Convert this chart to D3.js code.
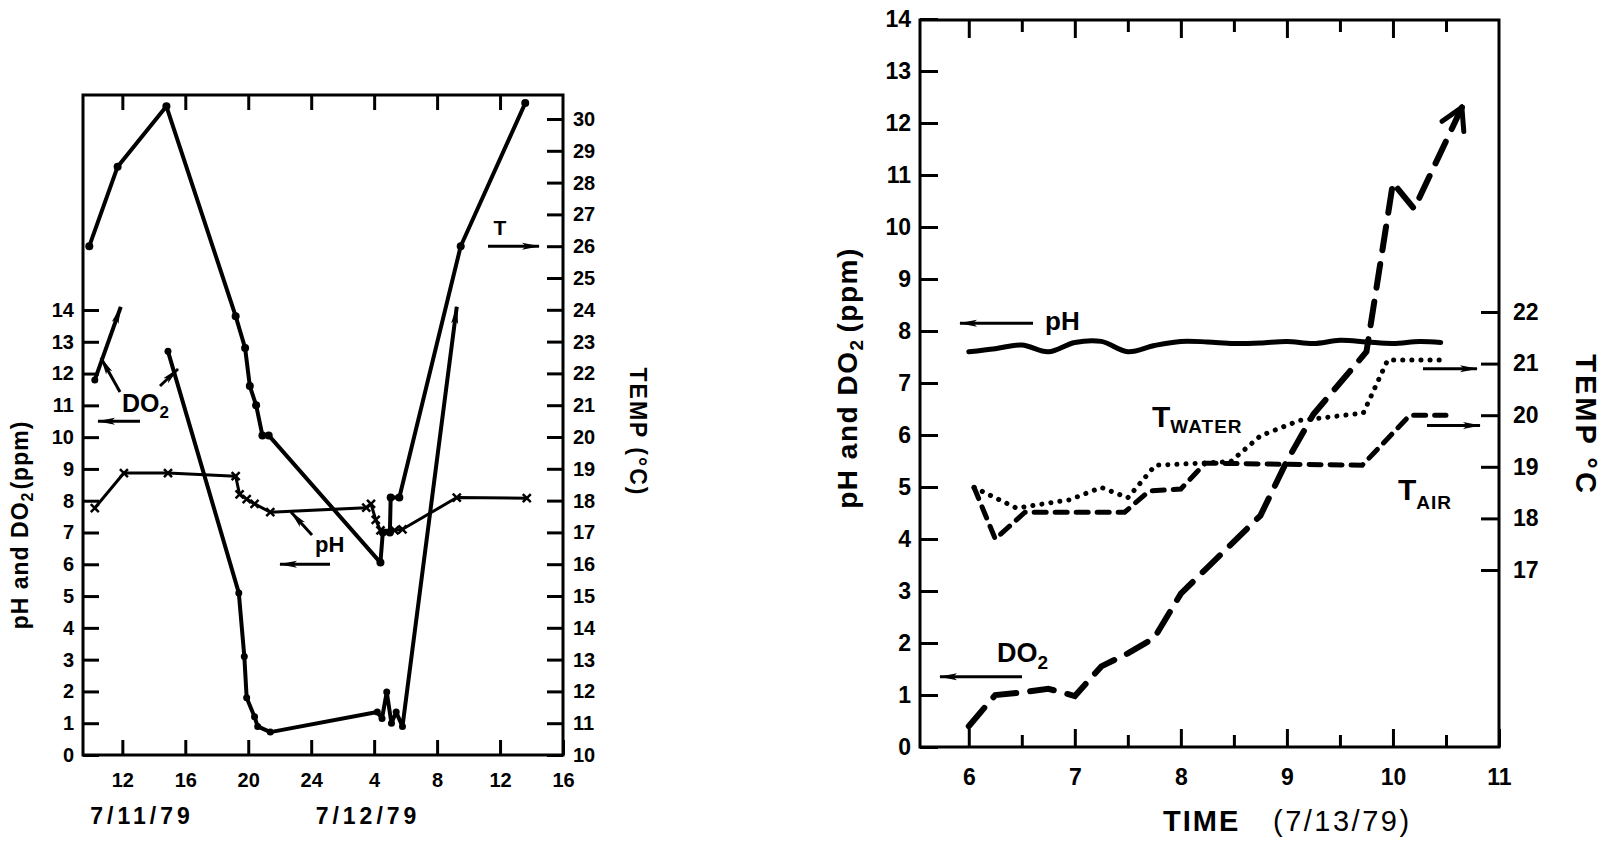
<!DOCTYPE html>
<html>
<head>
<meta charset="utf-8">
<script src="https://cdn.jsdelivr.net/npm/d3@7"></script>
<style>
body { margin: 0; background: #fff; }
svg { display: block; font-family: "Liberation Sans", Arial, sans-serif; font-weight: bold; }
</style>
</head>
<body>
<svg id="chart" width="1614" height="844"></svg>
<script>
// ---------- left panel: hours counted from midnight of 7/11/79 ----------
const leftTicks = [12, 16, 20, 24, 28, 32, 36, 40];
const leftTickLabels = ["12", "16", "20", "24", "4", "8", "12", "16"];
const leftPhTicks = d3.range(0, 15);
const leftTempTicks = d3.range(10, 31);
const leftDates = ["7/11/79", "7/12/79"];

// temperature (deg C)
const tempL = [[9.9, 26.0], [11.7, 28.5], [14.8, 30.4], [19.2, 23.8], [19.8, 22.8], [20.1, 21.6],
  [20.5, 21.0], [20.9, 20.05], [21.3, 20.05], [28.4, 16.05], [28.55, 17.0], [29.0, 17.0],
  [29.05, 18.1], [29.6, 18.1], [33.5, 26.0], [37.6, 30.5]];
// dissolved oxygen (ppm), two pieces, both run off scale
const do2LFirst = [[10.25, 11.8], [11.9, 14.1]];
const do2LSecond = [[14.9, 12.7], [19.4, 5.1], [19.75, 3.1], [19.9, 1.8], [20.4, 1.2], [20.6, 0.9],
  [21.4, 0.72], [28.2, 1.35], [28.5, 1.15], [28.8, 1.98], [29.1, 1.0], [29.4, 1.35], [29.8, 0.9],
  [33.25, 14.1]];
// pH
const phL = [[10.25, 7.77], [12.1, 8.87], [14.9, 8.87], [19.2, 8.77], [19.45, 8.2], [19.9, 8.05],
  [20.4, 7.9], [21.4, 7.64], [27.5, 7.78], [27.8, 7.9], [28.1, 7.4], [28.4, 7.07], [29.3, 7.07],
  [29.8, 7.1], [33.25, 8.1], [37.7, 8.08]];

// ---------- right panel: time of day on 7/13/79 ----------
const rightTicks = [6, 7, 8, 9, 10, 11];
const rightMinorTicks = [6.5, 7.5, 8.5, 9.5, 10.5];
const rightPhTicks = d3.range(0, 15);
const rightTempTicks = [17, 18, 19, 20, 21, 22];

const phR = [[6.0, 7.6], [6.25, 7.66], [6.5, 7.73], [6.75, 7.6], [7.0, 7.78], [7.25, 7.8], [7.5, 7.6],
  [7.75, 7.72], [8.0, 7.8], [8.25, 7.79], [8.5, 7.76], [8.75, 7.77], [9.0, 7.8], [9.25, 7.76],
  [9.5, 7.82], [9.75, 7.79], [10.0, 7.76], [10.25, 7.8], [10.45, 7.78]];
const do2R = [[6.0, 0.4], [6.25, 1.0], [6.5, 1.05], [6.75, 1.12], [7.0, 0.98], [7.25, 1.55], [7.5, 1.8],
  [7.75, 2.1], [8.0, 2.95], [8.25, 3.45], [8.5, 3.95], [8.75, 4.45], [9.0, 5.5], [9.25, 6.4],
  [9.5, 7.0], [9.75, 7.6], [10.0, 10.85], [10.2, 10.35], [10.65, 12.3]];
const waterR = [[6.05, 18.6], [6.45, 18.2], [6.95, 18.36], [7.25, 18.6], [7.5, 18.4], [7.76, 19.03],
  [8.19, 19.07], [8.47, 19.1], [8.75, 19.6], [9.12, 19.9], [9.72, 20.04], [9.95, 21.07], [10.47, 21.07]];
const airR = [[6.05, 18.6], [6.25, 17.6], [6.53, 18.12], [7.47, 18.12], [7.7, 18.53], [8.0, 18.57],
  [8.23, 19.07], [9.71, 19.03], [10.16, 20.0], [10.5, 20.0]];

const font = '"Liberation Sans", Arial, sans-serif';
const svg = d3.select("#chart");
const defs = svg.append("defs");

// filled arrow head and open chevron
defs.append("marker").attr("id", "head")
  .attr("viewBox", "0 0 18 8").attr("refX", 17).attr("refY", 4)
  .attr("markerWidth", 18).attr("markerHeight", 8)
  .attr("markerUnits", "userSpaceOnUse").attr("orient", "auto")
  .append("path").attr("d", "M0,0.5 L18,4 L0,7.5 L4,4 Z").attr("fill", "#000");
defs.append("marker").attr("id", "chev")
  .attr("viewBox", "0 0 30 30").attr("refX", 27).attr("refY", 15)
  .attr("markerWidth", 30).attr("markerHeight", 30)
  .attr("markerUnits", "userSpaceOnUse").attr("orient", "auto")
  .append("path").attr("d", "M6,3 L27,15 L6,27").attr("fill", "none")
  .attr("stroke", "#000").attr("stroke-width", 5).attr("stroke-linecap", "round");

function styleAxis(g, size) {
  g.attr("font-family", font).attr("font-size", size).attr("font-weight", "bold");
  g.select(".domain").remove();
  g.selectAll(".tick line").attr("stroke-width", 3);
}

function arrow(g, x1, y1, x2, y2, w) {
  g.append("line").attr("x1", x1).attr("y1", y1).attr("x2", x2).attr("y2", y2)
    .attr("stroke", "#000").attr("stroke-width", w || 3).attr("marker-end", "url(#head)");
}

// ================= LEFT PANEL =================
const L = { left: 83, right: 563, top: 95, bottom: 755 };
const xL = d3.scaleLinear().domain([9.5, 40]).range([L.left, L.right]);
const yL = d3.scaleLinear().domain([0, 14]).range([755, 310]);
const yLT = d3.scaleLinear().domain([10, 30]).range([755, 119]);

const gL = svg.append("g");
gL.append("g").attr("transform", `translate(${L.left},0)`)
  .call(d3.axisLeft(yL).tickValues(leftPhTicks).tickSize(-16).tickPadding(9))
  .call(styleAxis, 20);
gL.append("g").attr("transform", `translate(${L.right},0)`)
  .call(d3.axisRight(yLT).tickValues(leftTempTicks).tickSize(-16).tickPadding(10))
  .call(styleAxis, 20);
gL.append("g").attr("transform", `translate(0,${L.bottom})`)
  .call(d3.axisBottom(xL).tickValues(leftTicks).tickFormat((d, i) => leftTickLabels[i]).tickSize(-15).tickPadding(18))
  .call(styleAxis, 20);
gL.append("g").attr("transform", `translate(0,${L.top})`)
  .call(d3.axisTop(xL).tickValues(leftTicks.slice(0, -1)).tickFormat("").tickSize(-15))
  .call(styleAxis, 20);
gL.append("rect").attr("x", L.left).attr("y", L.top)
  .attr("width", L.right - L.left).attr("height", L.bottom - L.top)
  .attr("fill", "none").attr("stroke", "#000").attr("stroke-width", 3);

const lineL = d3.line().x(d => xL(d[0])).y(d => yL(d[1]));
const lineLT = d3.line().x(d => xL(d[0])).y(d => yLT(d[1]));

gL.append("path").attr("d", lineLT(tempL)).attr("fill", "none").attr("stroke", "#000")
  .attr("stroke-width", 4).attr("stroke-linejoin", "round");
gL.selectAll(".tdot").data(tempL).enter().append("circle")
  .attr("cx", d => xL(d[0])).attr("cy", d => yLT(d[1])).attr("r", 4);

[do2LFirst, do2LSecond].forEach(s => {
  gL.append("path").attr("d", lineL(s)).attr("fill", "none").attr("stroke", "#000")
    .attr("stroke-width", 4).attr("stroke-linejoin", "round").attr("marker-end", "url(#head)");
});
gL.selectAll(".odot").data(do2LFirst.slice(0, 1).concat(do2LSecond.slice(0, -1))).enter().append("circle")
  .attr("cx", d => xL(d[0])).attr("cy", d => yL(d[1])).attr("r", 3.5);

gL.append("path").attr("d", lineL(phL)).attr("fill", "none").attr("stroke", "#000")
  .attr("stroke-width", 3).attr("stroke-linejoin", "round");
gL.selectAll(".px").data(phL).enter().append("path")
  .attr("transform", d => `translate(${xL(d[0])},${yL(d[1])})`)
  .attr("d", "M-4,-4L4,4M-4,4L4,-4").attr("stroke", "#000").attr("stroke-width", 2.5);

// left panel labels
gL.append("text").attr("transform", "translate(28,525) rotate(-90)").attr("text-anchor", "middle")
  .attr("font-size", 23).attr("letter-spacing", 1)
  .call(t => { t.append("tspan").text("pH and DO"); t.append("tspan").attr("font-size", 16).attr("dy", 5).text("2");
    t.append("tspan").attr("dy", -5).attr("dx", 2).text("(ppm)"); });
gL.append("text").attr("transform", "translate(630,432) rotate(90)").attr("text-anchor", "middle")
  .attr("font-size", 23).attr("letter-spacing", 2).text("TEMP (\u00b0C)");
gL.selectAll(".date").data(leftDates).enter().append("text")
  .attr("x", (d, i) => i === 0 ? 142 : 368).attr("y", 824)
  .attr("text-anchor", "middle").attr("font-size", 23).attr("letter-spacing", 4).text(d => d);

gL.append("text").attr("x", 122).attr("y", 412).attr("font-size", 25)
  .call(t => { t.append("tspan").text("DO"); t.append("tspan").attr("font-size", 17).attr("dy", 6).text("2"); });
arrow(gL, 120, 392, 101, 358);
arrow(gL, 160, 386, 178, 369);
arrow(gL, 140, yL(10.5), 98, yL(10.5));
gL.append("text").attr("x", 315).attr("y", 552).attr("font-size", 22).text("pH");
arrow(gL, 312, 535, 291, 512);
arrow(gL, 330, yL(6), 280, yL(6));
gL.append("text").attr("x", 500).attr("y", 235).attr("text-anchor", "middle").attr("font-size", 21).text("T");
arrow(gL, 488, yLT(26), 539, yLT(26));

// ================= RIGHT PANEL =================
const R = { left: 920, right: 1499, top: 20, bottom: 747 };
const xR = d3.scaleLinear().domain([5.54, 11]).range([R.left, R.right]);
const yR = d3.scaleLinear().domain([0, 14]).range([747, 19]);
const yRT = d3.scaleLinear().domain([17, 22]).range([570, 312]);
const intFmt = d3.format("d");

const gR = svg.append("g");
gR.append("g").attr("transform", `translate(${R.left},0)`)
  .call(d3.axisLeft(yR).tickValues(rightPhTicks).tickFormat(intFmt).tickSize(-18).tickPadding(9))
  .call(styleAxis, 23);
gR.append("g").attr("transform", `translate(${R.right},0)`)
  .call(d3.axisRight(yRT).tickValues(rightTempTicks).tickFormat(intFmt).tickSize(-18).tickPadding(14))
  .call(styleAxis, 23);
gR.append("g").attr("transform", `translate(0,${R.bottom})`)
  .call(d3.axisBottom(xR).tickValues(rightTicks).tickFormat(intFmt).tickSize(-18).tickPadding(22))
  .call(styleAxis, 23);
gR.append("g").attr("transform", `translate(0,${R.bottom})`)
  .call(d3.axisBottom(xR).tickValues(rightMinorTicks).tickFormat("").tickSize(-12))
  .call(styleAxis, 23);
gR.append("g").attr("transform", `translate(0,${R.top})`)
  .call(d3.axisTop(xR).tickValues(rightTicks.slice(0, -1)).tickFormat("").tickSize(-18))
  .call(styleAxis, 23);
gR.append("g").attr("transform", `translate(0,${R.top})`)
  .call(d3.axisTop(xR).tickValues(rightMinorTicks).tickFormat("").tickSize(-12))
  .call(styleAxis, 23);
gR.append("rect").attr("x", R.left).attr("y", R.top)
  .attr("width", R.right - R.left).attr("height", R.bottom - R.top)
  .attr("fill", "none").attr("stroke", "#000").attr("stroke-width", 3);

const lineR = d3.line().x(d => xR(d[0])).y(d => yR(d[1]));
const lineRT = d3.line().x(d => xR(d[0])).y(d => yRT(d[1]));

gR.append("path").attr("d", lineR.curve(d3.curveCatmullRom)(phR)).attr("fill", "none")
  .attr("stroke", "#000").attr("stroke-width", 5).attr("stroke-linecap", "round");
lineR.curve(d3.curveLinear);
gR.append("path").attr("d", lineRT(waterR)).attr("fill", "none").attr("stroke", "#000")
  .attr("stroke-width", 5).attr("stroke-linecap", "round").attr("stroke-dasharray", "0.1,9");
gR.append("path").attr("d", lineRT(airR)).attr("fill", "none").attr("stroke", "#000")
  .attr("stroke-width", 5).attr("stroke-linecap", "round").attr("stroke-dasharray", "12,9");
gR.append("path").attr("d", lineR(do2R)).attr("fill", "none").attr("stroke", "#000")
  .attr("stroke-width", 6).attr("stroke-linecap", "round").attr("stroke-dasharray", "24,14")
  .attr("marker-end", "url(#chev)");

// right panel labels
gR.append("text").attr("transform", "translate(857,378) rotate(-90)").attr("text-anchor", "middle")
  .attr("font-size", 28).attr("letter-spacing", 1.5)
  .call(t => { t.append("tspan").text("pH and DO"); t.append("tspan").attr("font-size", 19).attr("dy", 6).text("2");
    t.append("tspan").attr("dy", -6).attr("dx", 6).text("(ppm)"); });
gR.append("text").attr("transform", "translate(1576,425) rotate(90)").attr("text-anchor", "middle")
  .attr("font-size", 29).attr("letter-spacing", 3).text("TEMP \u00b0C");
gR.append("text").attr("x", 1163).attr("y", 831).attr("font-size", 29).attr("letter-spacing", 2).text("TIME");
gR.append("text").attr("x", 1273).attr("y", 831).attr("font-size", 29).attr("font-weight", "normal")
  .attr("letter-spacing", 2.5).text("(7/13/79)");

gR.append("text").attr("x", 1045).attr("y", 330).attr("font-size", 26).text("pH");
arrow(gR, 1033, yR(8.15), 960, yR(8.15));
gR.append("text").attr("x", 997).attr("y", 662).attr("font-size", 27)
  .call(t => { t.append("tspan").text("DO"); t.append("tspan").attr("font-size", 19).attr("dy", 7).text("2"); });
arrow(gR, 1022, yR(1.35), 940, yR(1.35));
gR.append("text").attr("x", 1152).attr("y", 427).attr("font-size", 30)
  .call(t => { t.append("tspan").text("T"); t.append("tspan").attr("font-size", 19).attr("dy", 6).attr("letter-spacing", 1).text("WATER"); });
gR.append("text").attr("x", 1398).attr("y", 500).attr("font-size", 30)
  .call(t => { t.append("tspan").text("T"); t.append("tspan").attr("font-size", 19).attr("dy", 9).attr("letter-spacing", 1).text("AIR"); });
arrow(gR, 1423, yRT(20.9), 1477, yRT(20.9));
arrow(gR, 1427, yRT(19.8), 1480, yRT(19.8));
</script>
</body>
</html>
